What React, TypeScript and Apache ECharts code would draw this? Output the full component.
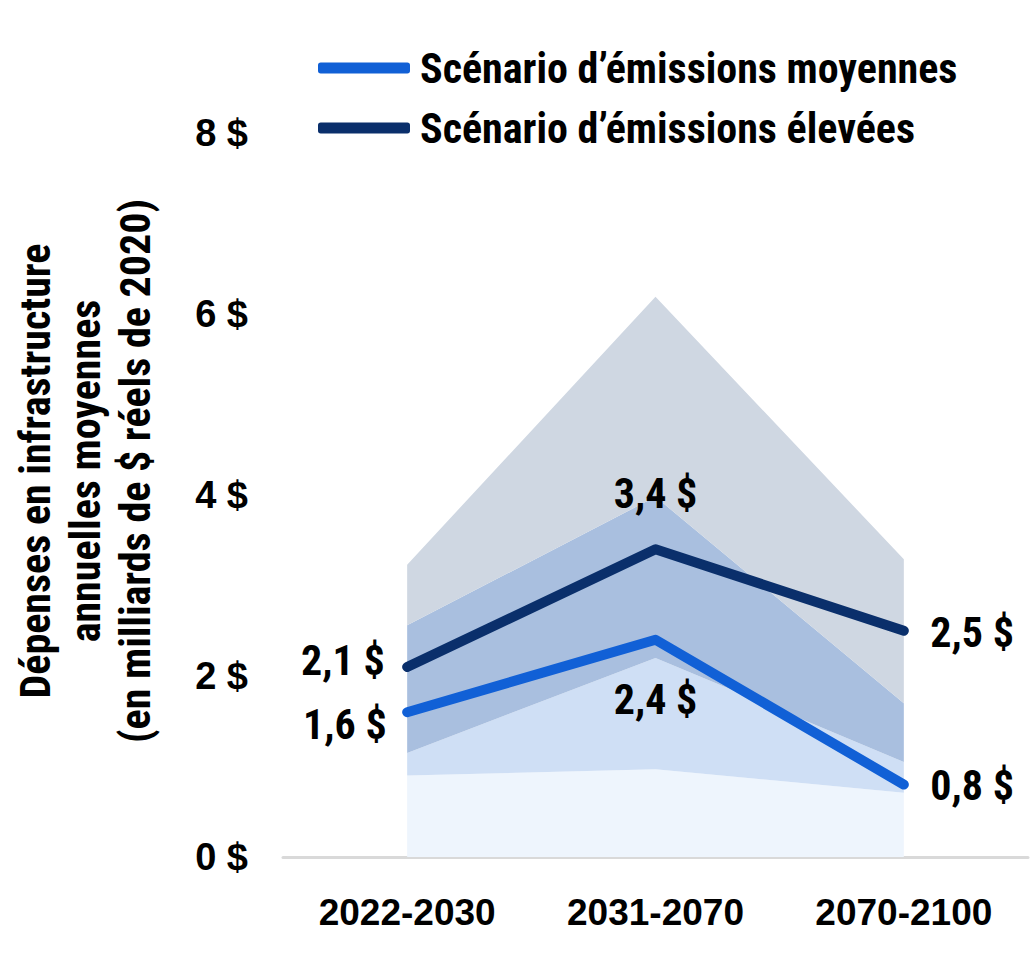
import React, { useEffect, useRef } from "react";
import * as echarts from "echarts";

const categories = ["2022-2030", "2031-2070", "2070-2100"];
const mediumScenario = [1.6, 2.4, 0.8];
const highScenario = [2.1, 3.4, 2.5];
const mediumRangeLow = [0.9, 0.97, 0.71];
const mediumRangeHigh = [2.56, 3.98, 1.7];
const highRangeLow = [1.15, 2.2, 1.05];
const highRangeHigh = [3.23, 6.19, 3.29];
const yTicks = { min: 0, max: 8, interval: 2 };

const NARROW = '"Roboto Condensed", "Open Sans Condensed", sans-serif';
const WIDE = '"Liberation Sans", Arial, sans-serif';

const MED_NAME = "Scénario d’émissions moyennes";
const HIGH_NAME = "Scénario d’émissions élevées";

const fmt = (v: number) => v.toFixed(1).replace(".", ",") + " $";

const labelBase = {
  show: true,
  fontFamily: NARROW,
  fontWeight: "bold",
  fontSize: 42,
  color: "#000",
  formatter: (p: any) => fmt(p.value),
};

export default function App() {
  const ref = useRef<HTMLDivElement>(null);
  useEffect(() => {
    document.body.style.margin = "0";
    if (!ref.current) return;
    const chart = echarts.init(ref.current, null, { renderer: "svg" });

    const layer1 = mediumRangeLow.map((v) => v);
    const layer2 = highRangeLow.map((v, i) => +(v - mediumRangeLow[i]).toFixed(3));
    const layer3 = mediumRangeHigh.map((v, i) => +(v - highRangeLow[i]).toFixed(3));
    const layer4 = highRangeHigh.map((v, i) => +(v - mediumRangeHigh[i]).toFixed(3));
    const bandColors = ["#eef5fd", "#cfdff5", "#a9bfdf", "#cfd7e2"];
    const bands = [layer1, layer2, layer3, layer4].map((d, i) => ({
      name: "band" + i,
      type: "line",
      stack: "bands",
      data: d,
      symbol: "none",
      silent: true,
      lineStyle: { width: 0, opacity: 0 },
      areaStyle: { color: bandColors[i], opacity: 1 },
      z: 1,
    }));

    const highLabels = [
      { position: "left", distance: 22, offset: [0, -6] },
      { position: "top", distance: 34, offset: [0, 0] },
      { position: "right", distance: 26, offset: [0, 2] },
    ];
    const medLabels = [
      { position: "left", distance: 20, offset: [0, 12] },
      { position: "bottom", distance: 38, offset: [0, 0] },
      { position: "right", distance: 26, offset: [0, 1] },
    ];

    const lineSeries = (name: string, vals: number[], color: string, labels: any[], z: number) => ({
      name,
      type: "line",
      data: vals.map((v, i) => ({ value: v, label: { ...labelBase, ...labels[i] } })),
      symbol: "circle",
      symbolSize: 1,
      showSymbol: true,
      itemStyle: { color },
      color,
      lineStyle: { width: 10, color, cap: "round", join: "round" },
      z,
    });

    chart.setOption({
      animation: false,
      grid: { left: 283, right: 2, top: 133, bottom: 102, containLabel: false },
      legend: {
        data: [MED_NAME, HIGH_NAME],
        orient: "vertical",
        left: 313,
        top: 41,
        icon: "roundRect",
        itemWidth: 92,
        itemHeight: 11,
        itemGap: 16,
        textStyle: {
          fontFamily: NARROW,
          fontWeight: "bold",
          fontSize: 42,
          lineHeight: 44,
          color: "#000",
          padding: [0, 0, 0, 5],
        },
      },
      xAxis: {
        type: "category",
        data: categories,
        boundaryGap: true,
        axisLine: { show: true, lineStyle: { color: "#d9d9d9", width: 3 } },
        axisTick: { show: false },
        axisLabel: {
          fontFamily: WIDE,
          fontWeight: "bold",
          fontSize: 37,
          color: "#000",
          margin: 37,
        },
        splitLine: { show: false },
      },
      yAxis: {
        type: "value",
        min: yTicks.min,
        max: yTicks.max,
        interval: yTicks.interval,
        axisLine: { show: false },
        axisTick: { show: false },
        splitLine: { show: false },
        axisLabel: {
          formatter: "{value} $",
          fontFamily: WIDE,
          fontWeight: "bold",
          fontSize: 38,
          color: "#000",
          margin: 35,
        },
      },
      graphic: [
        {
          type: "text",
          x: 85,
          y: 471,
          rotation: Math.PI / 2,
          style: {
            text: "Dépenses en infrastructure\nannuelles moyennes\n(en milliards de $ réels de 2020)",
            fontFamily: NARROW,
            fontWeight: "bold",
            fontSize: 42,
            lineHeight: 50,
            align: "center",
            verticalAlign: "middle",
            fill: "#000",
          },
        },
      ],
      series: [
        ...bands,
        lineSeries(HIGH_NAME, highScenario, "#0a2f6b", highLabels, 5),
        lineSeries(MED_NAME, mediumScenario, "#1160d6", medLabels, 6),
      ],
    });
    return () => chart.dispose();
  }, []);
  return <div ref={ref} style={{ width: 1030, height: 959 }} />;
}
